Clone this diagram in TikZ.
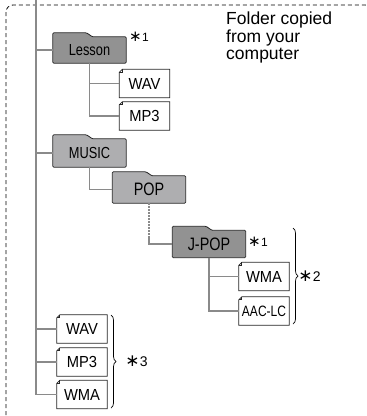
\documentclass[tikz,border=0pt]{standalone}
\usepackage{fontspec}
\setmainfont{Liberation Sans}
\newfontfamily\condfont[FakeStretch=0.8]{Liberation Sans}
\newfontfamily\filefont[FakeStretch=0.92]{Liberation Sans}
\newfontfamily\symfont{DejaVu Sans}
\usetikzlibrary{calc, backgrounds, decorations.pathreplacing}
\definecolor{folderdark}{RGB}{146, 146, 146}
\definecolor{folderlight}{RGB}{174, 174, 176}
\definecolor{treegray}{RGB}{138, 138, 138}
\newcommand{\noteref}[2][15]{{\symfont\fontsize{#1}{#1}\selectfont ∗}\kern0.3pt#2}

\begin{document}
\begin{tikzpicture}[x=1pt, y=-1pt,
  folder/.style={minimum width=73pt, minimum height=26pt, inner sep=0pt, font=\condfont\fontsize{16}{16}\selectfont},
  bigfolder/.style={folder, minimum height=27pt, font=\condfont\fontsize{18}{18}\selectfont},
  file/.style={minimum width=50pt, minimum height=28pt, inner sep=0pt, font=\filefont\fontsize{16}{16}\selectfont},
  branch/.style={draw=treegray, line width=1.6pt},
  edge/.style={draw=black!85, line width=0.8pt},
  brace/.style={decorate, decoration={brace, amplitude=5pt}, line width=0.7pt},
  note/.style={inner sep=0pt, anchor=west, font=\fontsize{12}{12}\selectfont}
]
  \clip (0,0) rectangle (367,416);
  % area copied from the computer
  \draw[dash pattern=on 4pt off 3pt, line width=0.8pt, rounded corners=7pt] (6,5) rectangle (372,422);
  \node[anchor=north west, align=left, inner sep=0pt, font=\fontsize{17.5}{17.7}\selectfont] (caption) at (226,11.5) {Folder copied\\from your\\computer};

  \coordinate (root) at (36,0);
  \node[folder] (lesson) at (89.5,50) {Lesson};
  \node[file] (wav1) at (144.5,83.5) {WAV};
  \node[file] (mp31) at (144.5,116) {MP3};
  \node[folder, minimum height=28pt] (music) at (89.5,153) {MUSIC};
  \node[bigfolder] (pop) at (149,189.5) {POP};
  \node[bigfolder] (jpop) at (209,244) {J-POP};
  \node[file] (wma2) at (264,276.5) {WMA};
  \node[file, font=\condfont\fontsize{15}{15}\selectfont] (aac) at (264,311) {AAC-LC};
  \node[file] (wav3) at (82,329) {WAV};
  \node[file] (mp33) at (82,362) {MP3};
  \node[file] (wma3) at (82,394.5) {WMA};

  \node[note] (note1a) at (129,37) {\noteref{1}};
  \node[note] (note1b) at (248,242) {\noteref{1}};

  % tree lines
  \draw[branch] (root) |- (wma3.west);
  \foreach \n in {lesson, music, wav3, mp33}
    \draw[branch] (\n.west -| root) -- (\n.west);
  \draw[branch] (lesson.south) |- (mp31.west);
  \draw[branch] (lesson.south |- wav1.west) -- (wav1.west);
  \draw[branch] (music.south) |- (pop.west);
  \coordinate (popgap) at ($(pop.south)!0.82!(pop.south |- jpop.west)$);
  \draw[branch, dash pattern=on 1.5pt off 1.5pt] (pop.south) -- (popgap);
  \draw[branch] (popgap) |- (jpop.west);
  \draw[branch] (jpop.south) |- (aac.west);
  \draw[branch] (jpop.south |- wma2.west) -- (wma2.west);

  % braces
  \draw[brace] (293,228) -- (293,324) node[midway, note, xshift=5pt, font=\fontsize{14}{14}\selectfont] (note2) {\noteref[17]{2}};
  \draw[brace] (111,315) -- (111,408) node[midway, note, xshift=14pt, font=\fontsize{14}{14}\selectfont] (note3) {\noteref[17]{3}};

  \begin{scope}[on background layer]
    \foreach \f/\c in {lesson/folderdark, music/folderlight, pop/folderlight, jpop/folderdark}
      \filldraw[edge, fill=\c, rounded corners=1pt] (\f.south west) -- ([yshift=4pt]\f.north west)
        -- ($([yshift=4pt]\f.north west)!0.46!([yshift=4pt]\f.north east)$)
        -- ($(\f.north west)!0.54!(\f.north east)$) -- (\f.north east) -- (\f.south east) -- cycle;
    \foreach \f in {wav1, mp31, wma2, aac, wav3, mp33, wma3} {
      \filldraw[edge, fill=white] ([yshift=-3pt]\f.north west) -- ([xshift=3pt]\f.north west)
        -- (\f.north east) -- (\f.south east) -- (\f.south west) -- cycle;
      \draw[edge] ([yshift=-3pt]\f.north west) -- ([xshift=3pt, yshift=-3pt]\f.north west) -- ([xshift=3pt]\f.north west);
    }
  \end{scope}
\end{tikzpicture}
\end{document}
